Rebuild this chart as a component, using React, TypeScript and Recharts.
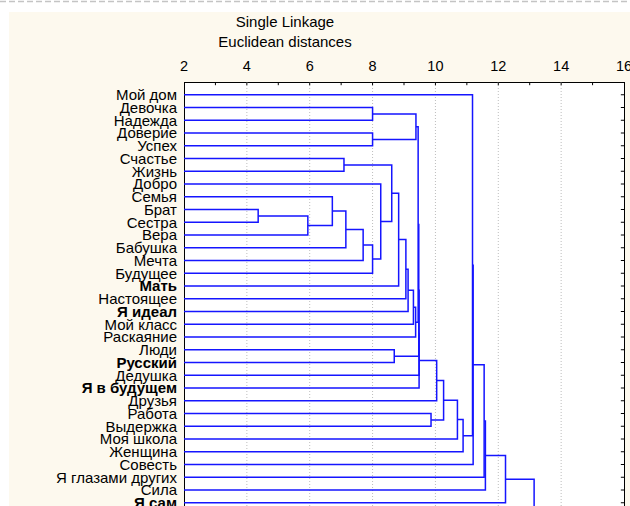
import React from 'react';
import { LineChart, Line, XAxis, YAxis, ReferenceLine } from 'recharts';

// leaves of the tree, top to bottom (the last one lies below the visible edge)
const labels = [
  'Мой дом', 'Девочка', 'Надежда', 'Доверие', 'Успех', 'Счастье', 'Жизнь',
  'Добро', 'Семья', 'Брат', 'Сестра', 'Вера', 'Бабушка', 'Мечта', 'Будущее',
  'Мать', 'Настоящее', 'Я идеал', 'Мой класс', 'Раскаяние', 'Люди', 'Русский',
  'Дедушка', 'Я в будущем', 'Друзья', 'Работа', 'Выдержка', 'Моя школа',
  'Женщина', 'Совесть', 'Я глазами других', 'Сила', 'Я сам', '',
];
const boldLabels = ['Мать', 'Я идеал', 'Русский', 'Я в будущем', 'Я сам'];

const distTicks = [2, 4, 6, 8, 10, 12, 14, 16];
const gridTicks = [4, 6, 8, 10, 12, 14];
const minorTicks = [3, 4, 5, 6, 7, 8, 9, 10, 11, 12, 13, 14, 15];

// single linkage: [node, node, distance]; node ids >= labels.length are earlier merges
const linkage: [number, number, number][] = [
  [9, 10, 4.36],
  [34, 11, 5.94],
  [8, 35, 6.72],
  [5, 6, 7.09],
  [36, 12, 7.15],
  [38, 13, 7.7],
  [1, 2, 8.0],
  [3, 4, 8.0],
  [39, 14, 8.0],
  [7, 42, 8.26],
  [37, 43, 8.61],
  [20, 21, 8.69],
  [44, 15, 8.83],
  [46, 16, 9.06],
  [47, 17, 9.13],
  [48, 18, 9.3],
  [49, 19, 9.37],
  [40, 41, 9.38],
  [51, 50, 9.45],
  [52, 45, 9.47],
  [53, 22, 9.48],
  [54, 23, 9.48],
  [25, 26, 9.86],
  [55, 24, 10.04],
  [57, 56, 10.26],
  [58, 27, 10.7],
  [59, 28, 10.88],
  [0, 60, 11.18],
  [61, 29, 11.2],
  [62, 30, 11.55],
  [63, 31, 11.59],
  [64, 32, 12.23],
  [65, 33, 13.14],
];

const rows = labels.map((_, i) => i);

// each merge becomes an elbow: child A -> merge distance -> child B
function buildLinks() {
  const pos = rows.slice();
  const dist = rows.map(() => 2);
  return linkage.map(([a, b, d]) => {
    const pts = [
      { x: dist[a], y: pos[a] },
      { x: d, y: pos[a] },
      { x: d, y: pos[b] },
      { x: dist[b], y: pos[b] },
    ];
    pos.push((pos[a] + pos[b]) / 2);
    dist.push(d);
    return pts;
  });
}

const links = buildLinks();
const font = '"Liberation Sans", Arial, sans-serif';

const RowTick = (props: any) => {
  const { x, y, payload } = props;
  const name = labels[payload.value] ?? '';
  return (
    <text
      x={x}
      y={y}
      dy="0.36em"
      textAnchor="end"
      fontSize={15}
      fontFamily={font}
      fill="#000"
      fontWeight={boldLabels.includes(name) ? 700 : 400}
    >
      {name}
    </text>
  );
};

export default function App() {
  return (
    <div style={{ position: 'absolute', left: 0, top: 0, width: 630, height: 506, overflow: 'hidden', background: '#fff' }}>
      <svg width={630} height={4} style={{ position: 'absolute', left: 0, top: 0 }}>
        <line x1={0} y1={1.5} x2={630} y2={1.5} stroke="#c4c4c4" strokeWidth={1.5} strokeDasharray="6 3" />
      </svg>
      <div style={{ position: 'absolute', left: 9, top: 12, width: 621, height: 494, background: '#fdf9ee' }} />
      <div style={{ position: 'absolute', left: 184, top: 82, width: 439, height: 460, background: '#fff', border: '1px solid #000' }} />
      <div style={{ position: 'absolute', left: 185, width: 200, top: 12, textAlign: 'center', fontFamily: font, fontSize: 15, lineHeight: '20px', color: '#000' }}>
        <div>Single Linkage</div>
        <div>Euclidean distances</div>
      </div>
      <div style={{ position: 'absolute', left: 0, top: 0 }}>
        <LineChart width={630} height={528.25} margin={{ top: 52, right: 6, bottom: 0, left: 0 }}>
          <XAxis
            xAxisId="t"
            orientation="top"
            type="number"
            dataKey="x"
            domain={[2, 16]}
            ticks={distTicks}
            interval={0}
            height={30}
            axisLine={false}
            tickLine={false}
            tickSize={6}
            tickMargin={5}
            tick={{ fontSize: 14.5, fontFamily: font, fill: '#000' }}
          />
          <YAxis
            yAxisId="rows"
            type="number"
            domain={[-1, 34]}
            reversed
            ticks={rows}
            interval={0}
            width={184}
            axisLine={false}
            tickLine={false}
            tickMargin={1}
            tick={<RowTick />}
          />
          {gridTicks.map((v) => (
            <ReferenceLine
              key={'g' + v}
              xAxisId="t"
              yAxisId="rows"
              x={v}
              stroke="#bdbdbd"
              strokeDasharray="1 2"
            />
          ))}
          {minorTicks.map((v) => (
            <ReferenceLine
              key={'m' + v}
              xAxisId="t"
              yAxisId="rows"
              segment={[{ x: v, y: -1 }, { x: v, y: -0.75 }]}
              stroke="#000"
            />
          ))}
          {rows.map((r) => (
            <ReferenceLine
              key={'r' + r}
              xAxisId="t"
              yAxisId="rows"
              segment={[{ x: 15.9, y: r }, { x: 16, y: r }]}
              stroke="#000"
            />
          ))}
          {links.map((pts, i) => (
            <Line
              key={i}
              xAxisId="t"
              yAxisId="rows"
              data={pts}
              dataKey="y"
              type="linear"
              stroke="#1515ff"
              strokeWidth={1.5}
              dot={false}
              activeDot={false}
              isAnimationActive={false}
            />
          ))}
        </LineChart>
      </div>
    </div>
  );
}
